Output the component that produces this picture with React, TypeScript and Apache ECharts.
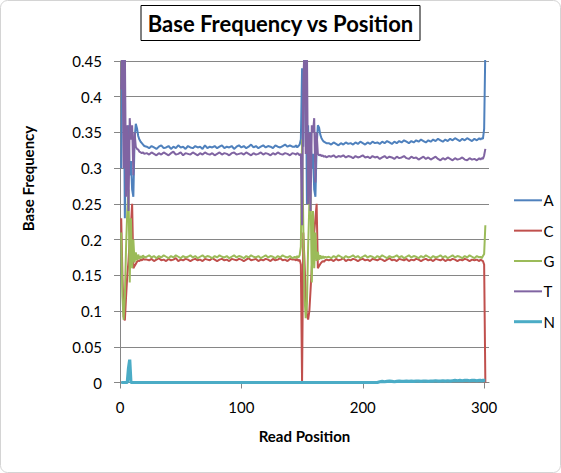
import React, { useEffect, useRef } from "react";
import * as echarts from "echarts";

// Read positions (x values shared by all series)
const POSITIONS = [
  1, 2, 3, 4, 5, 6, 7, 8, 9, 10, 11, 12, 13, 14, 15, 16, 17, 18, 19, 20,
  22, 24, 26, 28, 30, 32, 34, 36, 38, 40,
  42, 44, 46, 48, 50, 52, 54, 56, 58, 60,
  62, 64, 66, 68, 70, 72, 74, 76, 78, 80,
  82, 84, 86, 88, 90, 92, 94, 96, 98, 100,
  102, 104, 106, 108, 110, 112, 114, 116, 118, 120,
  122, 124, 126, 128, 130, 132, 134, 136, 138, 140,
  142,
  144, 145, 146, 147, 148, 149, 150, 151, 152, 153, 154, 155, 156, 157,
  158, 159, 160, 161, 162, 163, 164, 165, 166, 167, 168, 169, 170,
  172, 174, 176, 178, 180, 182, 184, 186, 188, 190,
  192, 194, 196, 198, 200, 202, 204, 206, 208, 210,
  212, 214, 216, 218, 220, 222, 224, 226, 228, 230,
  232, 234, 236, 238, 240, 242, 244, 246, 248, 250,
  252, 254, 256, 258, 260, 262, 264, 266, 268, 270,
  272, 274, 276, 278, 280, 282, 284, 286, 288, 290,
  292, 294, 296,
  297, 298, 299, 300, 301,
];

const FREQ_A = [
  0.30, 0.47, 0.47, 0.23, 0.35, 0.30, 0.36, 0.29, 0.31, 0.27, 0.26, 0.34, 0.362, 0.356, 0.345, 0.34, 0.337, 0.335, 0.333, 0.331,
  0.330, 0.328, 0.331, 0.329, 0.327, 0.330, 0.332, 0.328, 0.329, 0.331,
  0.327, 0.330, 0.328, 0.332, 0.329, 0.330, 0.327, 0.331, 0.329, 0.328,
  0.331, 0.329, 0.330, 0.327, 0.332, 0.328, 0.330, 0.329, 0.331, 0.328,
  0.330, 0.332, 0.328, 0.330, 0.329, 0.331, 0.327, 0.330, 0.332, 0.329,
  0.331, 0.328, 0.330, 0.333, 0.329, 0.331, 0.328, 0.330, 0.332, 0.329,
  0.331, 0.330, 0.328, 0.332, 0.330, 0.329, 0.331, 0.333, 0.330, 0.332,
  0.330,
  0.330, 0.332, 0.329, 0.331, 0.333, 0.34, 0.44, 0.33, 0.47, 0.47, 0.25, 0.36, 0.28, 0.35,
  0.30, 0.32, 0.27, 0.26, 0.33, 0.36, 0.357, 0.347, 0.342, 0.339, 0.337, 0.336, 0.335,
  0.335, 0.333, 0.336, 0.334, 0.332, 0.335, 0.333, 0.336, 0.334, 0.335,
  0.333, 0.336, 0.334, 0.337, 0.335, 0.333, 0.336, 0.334, 0.337, 0.335,
  0.336, 0.334, 0.337, 0.335, 0.338, 0.336, 0.334, 0.337, 0.335, 0.338,
  0.336, 0.339, 0.337, 0.335, 0.338, 0.336, 0.339, 0.337, 0.340, 0.338,
  0.336, 0.339, 0.337, 0.340, 0.338, 0.341, 0.339, 0.337, 0.340, 0.338,
  0.341, 0.339, 0.342, 0.340, 0.338, 0.341, 0.339, 0.342, 0.340, 0.338,
  0.341, 0.339, 0.342,
  0.340, 0.342, 0.341, 0.355, 0.47,
];

const FREQ_C = [
  0.23, 0.15, 0.092, 0.087, 0.12, 0.15, 0.17, 0.20, 0.22, 0.25, 0.16, 0.163, 0.166, 0.169, 0.171, 0.170, 0.172, 0.171, 0.173, 0.172,
  0.172, 0.171, 0.173, 0.170, 0.172, 0.174, 0.171, 0.172, 0.170, 0.173,
  0.171, 0.172, 0.174, 0.170, 0.172, 0.171, 0.173, 0.172, 0.170, 0.172,
  0.173, 0.171, 0.172, 0.170, 0.173, 0.172, 0.171, 0.174, 0.172, 0.170,
  0.172, 0.173, 0.171, 0.172, 0.170, 0.173, 0.172, 0.171, 0.173, 0.172,
  0.170, 0.172, 0.174, 0.171, 0.172, 0.173, 0.170, 0.172, 0.171, 0.173,
  0.172, 0.170, 0.173, 0.171, 0.172, 0.174, 0.171, 0.172, 0.170, 0.173,
  0.172,
  0.172, 0.171, 0.173, 0.170, 0.172, 0.165, 0.0, 0.21, 0.17, 0.12, 0.095, 0.088, 0.10, 0.13,
  0.16, 0.19, 0.21, 0.23, 0.25, 0.16, 0.163, 0.166, 0.168, 0.170, 0.169, 0.171, 0.172,
  0.171, 0.172, 0.170, 0.173, 0.171, 0.172, 0.174, 0.170, 0.172, 0.171,
  0.173, 0.172, 0.170, 0.172, 0.173, 0.171, 0.172, 0.170, 0.173, 0.172,
  0.171, 0.173, 0.172, 0.170, 0.172, 0.174, 0.171, 0.172, 0.170, 0.173,
  0.172, 0.171, 0.173, 0.170, 0.172, 0.171, 0.173, 0.172, 0.170, 0.172,
  0.173, 0.171, 0.172, 0.170, 0.173, 0.172, 0.171, 0.173, 0.170, 0.172,
  0.171, 0.173, 0.172, 0.170, 0.172, 0.171, 0.173, 0.172, 0.170, 0.172,
  0.171, 0.172, 0.170,
  0.172, 0.171, 0.170, 0.165, 0.0,
];

const FREQ_G = [
  0.21, 0.12, 0.088, 0.12, 0.19, 0.24, 0.27, 0.14, 0.23, 0.16, 0.20, 0.168, 0.182, 0.171, 0.179, 0.173, 0.177, 0.174, 0.178, 0.175,
  0.176, 0.178, 0.175, 0.177, 0.174, 0.177, 0.175, 0.178, 0.176, 0.174,
  0.177, 0.175, 0.178, 0.176, 0.174, 0.177, 0.175, 0.176, 0.178, 0.175,
  0.177, 0.174, 0.176, 0.178, 0.175, 0.177, 0.176, 0.174, 0.177, 0.175,
  0.178, 0.176, 0.175, 0.177, 0.174, 0.176, 0.178, 0.175, 0.177, 0.176,
  0.174, 0.177, 0.175, 0.178, 0.176, 0.175, 0.177, 0.174, 0.176, 0.178,
  0.175, 0.177, 0.176, 0.174, 0.177, 0.175, 0.178, 0.176, 0.175, 0.177,
  0.174,
  0.176, 0.174, 0.177, 0.175, 0.178, 0.19, 0.34, 0.22, 0.12, 0.09, 0.11, 0.19, 0.25, 0.27,
  0.14, 0.24, 0.16, 0.21, 0.17, 0.183, 0.172, 0.178, 0.173, 0.177, 0.174, 0.176, 0.175,
  0.176, 0.174, 0.177, 0.175, 0.178, 0.176, 0.174, 0.177, 0.175, 0.176,
  0.178, 0.175, 0.177, 0.174, 0.176, 0.178, 0.175, 0.177, 0.176, 0.174,
  0.177, 0.175, 0.178, 0.176, 0.174, 0.177, 0.175, 0.176, 0.178, 0.175,
  0.177, 0.174, 0.176, 0.178, 0.175, 0.177, 0.176, 0.174, 0.177, 0.175,
  0.178, 0.176, 0.174, 0.177, 0.175, 0.176, 0.178, 0.175, 0.177, 0.174,
  0.176, 0.178, 0.175, 0.177, 0.176, 0.174, 0.177, 0.175, 0.178, 0.176,
  0.174, 0.177, 0.175,
  0.176, 0.174, 0.177, 0.18, 0.22,
];

const FREQ_T = [
  0.41, 0.47, 0.30, 0.47, 0.26, 0.36, 0.24, 0.37, 0.34, 0.36, 0.29, 0.35, 0.33, 0.327, 0.326, 0.323, 0.322, 0.321, 0.322, 0.320,
  0.321, 0.319, 0.322, 0.320, 0.318, 0.321, 0.319, 0.322, 0.320, 0.318,
  0.321, 0.323, 0.319, 0.320, 0.322, 0.318, 0.321, 0.320, 0.319, 0.322,
  0.320, 0.318, 0.321, 0.319, 0.322, 0.320, 0.319, 0.321, 0.318, 0.320,
  0.322, 0.319, 0.321, 0.320, 0.318, 0.321, 0.322, 0.319, 0.320, 0.321,
  0.319, 0.322, 0.320, 0.318, 0.321, 0.319, 0.320, 0.322, 0.319, 0.321,
  0.320, 0.318, 0.321, 0.319, 0.322, 0.320, 0.319, 0.321, 0.320, 0.318,
  0.321,
  0.320, 0.319, 0.321, 0.320, 0.318, 0.32, 0.22, 0.42, 0.47, 0.32, 0.47, 0.25, 0.35, 0.24,
  0.36, 0.35, 0.37, 0.28, 0.35, 0.32, 0.318, 0.319, 0.317, 0.318, 0.316, 0.317, 0.315,
  0.317, 0.316, 0.318, 0.315, 0.317, 0.316, 0.318, 0.315, 0.317, 0.316,
  0.314, 0.317, 0.315, 0.316, 0.318, 0.315, 0.316, 0.314, 0.317, 0.315,
  0.316, 0.313, 0.315, 0.317, 0.314, 0.316, 0.315, 0.313, 0.316, 0.314,
  0.315, 0.317, 0.314, 0.313, 0.316, 0.314, 0.315, 0.312, 0.314, 0.316,
  0.313, 0.315, 0.312, 0.314, 0.316, 0.313, 0.311, 0.314, 0.312, 0.315,
  0.313, 0.311, 0.314, 0.312, 0.313, 0.315, 0.312, 0.311, 0.314, 0.312,
  0.313, 0.311, 0.314,
  0.312, 0.314, 0.313, 0.318, 0.327,
];

const FREQ_N = [
  0, 0, 0, 0, 0, 0, 0.02, 0.032, 0, 0, 0, 0, 0, 0, 0, 0, 0, 0, 0, 0,
  0, 0, 0, 0, 0, 0, 0, 0, 0, 0,
  0, 0, 0, 0, 0, 0, 0, 0, 0, 0,
  0, 0, 0, 0, 0, 0, 0, 0, 0, 0,
  0, 0, 0, 0, 0, 0, 0, 0, 0, 0,
  0, 0, 0, 0, 0, 0, 0, 0, 0, 0,
  0, 0, 0, 0, 0, 0, 0, 0, 0, 0,
  0,
  0, 0, 0, 0, 0, 0, 0, 0, 0, 0, 0, 0, 0, 0,
  0, 0, 0, 0, 0, 0, 0, 0, 0, 0, 0, 0, 0,
  0, 0, 0, 0, 0, 0, 0, 0, 0, 0,
  0, 0, 0, 0, 0, 0, 0, 0, 0, 0,
  0, 0.001, 0.0015, 0.001, 0.0015, 0.002, 0.0015, 0.001, 0.0015, 0.002,
  0.0015, 0.0015, 0.002, 0.0015, 0.002, 0.0015, 0.002, 0.002, 0.0015, 0.002,
  0.002, 0.0015, 0.002, 0.002, 0.0025, 0.002, 0.002, 0.0025, 0.002, 0.0025,
  0.002, 0.0025, 0.003, 0.0025, 0.003, 0.0025, 0.003, 0.003, 0.0025, 0.003,
  0.003, 0.0025, 0.003,
  0.003, 0.0025, 0.003, 0.003, 0.003,
];

const SERIES_NAMES = ["A", "C", "G", "T", "N"];
const SERIES_VALUES = [FREQ_A, FREQ_C, FREQ_G, FREQ_T, FREQ_N];
const SERIES_COLORS = ["#4F81BD", "#C0504D", "#9BBB59", "#8064A2", "#4BACC6"];
const SERIES_WIDTHS = [2, 2, 2, 2, 3.2];
const X_TICKS = [0, 100, 200, 300];
const X_MAX = 304;
const Y_MAX = 0.45;
const Y_STEP = 0.05;

const FONT = "Lato, 'Open Sans', sans-serif";
const GRID_COLOR = "#868686";

export default function App() {
  const ref = useRef<HTMLDivElement>(null);

  useEffect(() => {
    document.body.style.margin = "0";
    const chart = echarts.init(ref.current as HTMLDivElement, null, { renderer: "svg" });

    const series = SERIES_NAMES.map((name, k) => ({
      name,
      type: "line",
      data: POSITIONS.map((p, i) => [p, SERIES_VALUES[k][i]]),
      showSymbol: false,
      symbol: "none",
      clip: true,
      lineStyle: { color: SERIES_COLORS[k], width: SERIES_WIDTHS[k] },
      itemStyle: { color: SERIES_COLORS[k] },
      emphasis: { disabled: true },
    }));

    const legendText = {
      fontFamily: FONT,
      fontSize: 15,
      lineHeight: 16,
      color: "#000000",
      padding: [0, 0, 0, -3.5],
    };

    chart.setOption({
      animation: false,
      backgroundColor: "#ffffff",
      title: {
        text: "Base Frequency vs Position",
        left: "center",
        top: 5,
        padding: [7, 6],
        borderColor: "#000000",
        borderWidth: 1,
        textStyle: { fontFamily: FONT, fontWeight: "bold", fontSize: 22, color: "#000000" },
      },
      legend: [
        {
          orient: "vertical",
          left: 509,
          top: 187.3,
          icon: "rect",
          itemWidth: 28,
          itemHeight: 2,
          itemGap: 14.35,
          data: SERIES_NAMES.slice(0, 4),
          textStyle: legendText,
        },
        {
          orient: "vertical",
          left: 509,
          top: 308.7,
          icon: "rect",
          itemWidth: 28,
          itemHeight: 3,
          data: SERIES_NAMES.slice(4),
          textStyle: legendText,
        },
      ],
      grid: { left: 120, right: 72, top: 61, bottom: 90.5, containLabel: false },
      xAxis: {
        type: "value",
        min: 0,
        max: X_MAX,
        interval: 100,
        name: "Read Position",
        nameLocation: "middle",
        nameGap: 46,
        nameTextStyle: { fontFamily: FONT, fontWeight: "bold", fontSize: 15, color: "#000000" },
        axisLine: { show: true, onZero: false, lineStyle: { color: GRID_COLOR, width: 1 } },
        axisTick: { show: true, length: 6, customValues: X_TICKS, lineStyle: { color: GRID_COLOR } },
        axisLabel: {
          customValues: X_TICKS,
          margin: 17,
          fontFamily: FONT,
          fontSize: 15,
          color: "#000000",
        },
        splitLine: { show: false },
      },
      yAxis: {
        type: "value",
        min: 0,
        max: Y_MAX,
        interval: Y_STEP,
        axisLine: { show: true, lineStyle: { color: GRID_COLOR, width: 1 } },
        axisTick: { show: true, length: 6, lineStyle: { color: GRID_COLOR } },
        axisLabel: {
          margin: 18,
          fontFamily: FONT,
          fontSize: 15,
          color: "#000000",
          formatter: (v: number) => String(+v.toFixed(2)),
        },
        splitLine: { show: true, lineStyle: { color: GRID_COLOR, width: 1 } },
      },
      graphic: [
        {
          type: "rect",
          silent: true,
          z: -10,
          shape: { x: 0.5, y: 0.5, width: 560, height: 472, r: 7 },
          style: { fill: "none", stroke: "#d4d4d4", lineWidth: 1 },
        },
        {
          type: "text",
          x: 27.5,
          y: 178.5,
          rotation: Math.PI / 2,
          style: {
            text: "Base Frequency",
            fontFamily: FONT,
            fontWeight: "bold",
            fontSize: 15,
            fill: "#000000",
            textAlign: "center",
            textVerticalAlign: "middle",
          },
        },
      ],
      series,
    });

    return () => chart.dispose();
  }, []);

  return <div ref={ref} style={{ width: 561, height: 473 }} />;
}
